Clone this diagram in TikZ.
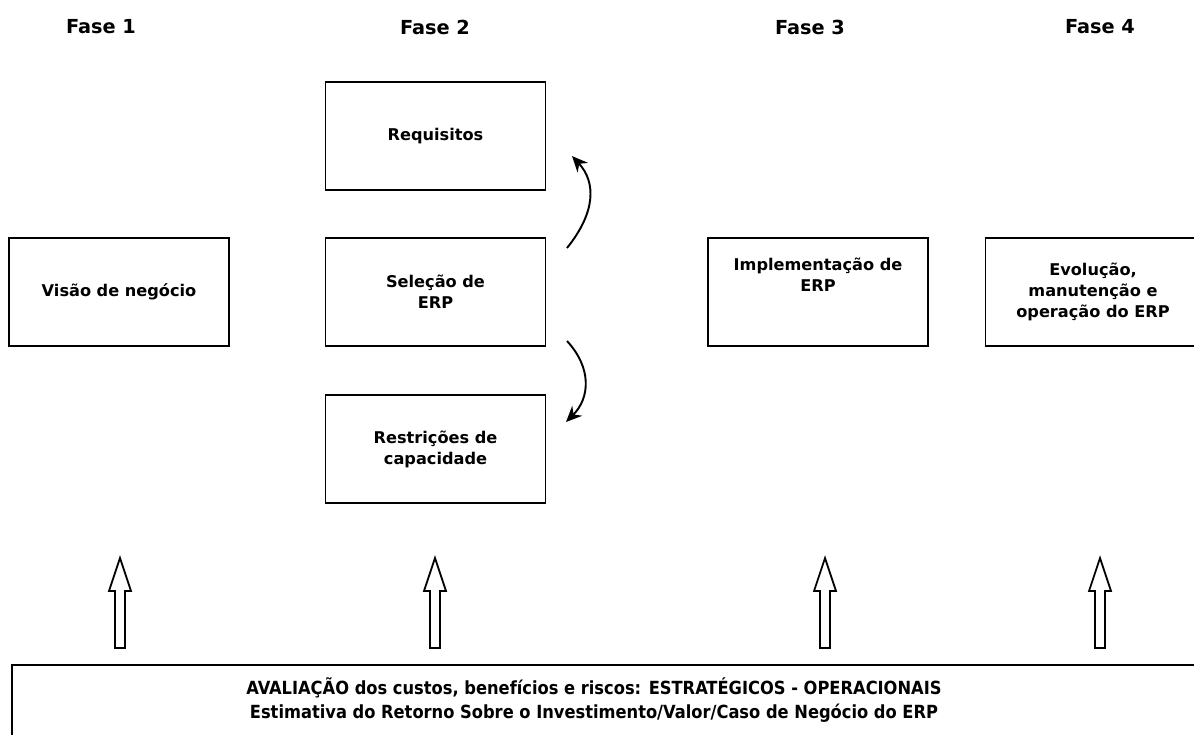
\documentclass[tikz,border=0pt]{standalone}
\usepackage{fontspec}
\setmainfont{DejaVu Sans}
\newfontfamily\narrowfont{DejaVu Sans Condensed}
\usetikzlibrary{arrows.meta,positioning}

\begin{document}
\begin{tikzpicture}[x=0.02cm,y=-0.02cm,
  every node/.style={font=\bfseries},
  fasebox/.style={draw,line width=1pt,minimum width=4.4cm,minimum height=2.16cm,align=center,font=\bfseries\fontsize{9.2}{12}\selectfont},
  fasetitle/.style={font=\bfseries\fontsize{11}{14}\selectfont},
  bendarrow/.style={line width=1.1pt,-{Stealth[length=9pt,width=8pt]}},
  hollow/.style={draw,line width=1pt,fill=white}]
\useasboundingbox (0,0) rectangle (1194,734);
% titles
\node[fasetitle] (f1) at (101,27) {Fase 1};
\node[fasetitle] (f2) at (435,27) {Fase 2};
\node[fasetitle] (f3) at (810,27) {Fase 3};
\node[fasetitle] (f4) at (1100,27) {Fase 4};
% boxes
\node[fasebox] (visao) at (119,292) {Visão de negócio};
\node[fasebox] (req) at (435.5,136) {Requisitos};
\node[fasebox] (sel) at (435.5,292) {Seleção de\\ERP};
\node[fasebox] (restr) at (435.5,449) {Restrições de\\capacidade};
\node[fasebox] (impl) at (818,292) {Implementação de\\ERP\\[8pt]};
\node[fasebox,minimum width=4.3cm] (evol) at (1093,292) {Evolução,\\manutenção e\\operação do ERP};
% curved arrows
\coordinate (up0) at (567,248);
\coordinate (up1) at (572,156);
\coordinate (dn0) at (567,341);
\coordinate (dn1) at (566,422);
\draw[bendarrow] (up0) .. controls (596,212) and (596,182) .. (up1);
\draw[bendarrow] (dn0) .. controls (592,368) and (590,398) .. (dn1);
% bottom box
\draw[line width=1pt] (12,740) -- (12,665) -- (1200,665);
\node[font=\narrowfont\bfseries\fontsize{10.3}{13.5}\selectfont,align=center] (aval) at (594,700)
  {AVALIAÇÃO dos custos, benefícios e riscos: ESTRATÉGICOS - OPERACIONAIS\\Estimativa do Retorno Sobre o Investimento/Valor/Caso de Negócio do ERP};
% hollow arrows
\foreach \ax in {120,435,825,1100}
  \draw[hollow] (\ax-5,648) -- (\ax-5,591) -- (\ax-11,591) -- (\ax,558)
    -- (\ax+11,591) -- (\ax+5,591) -- (\ax+5,648) -- cycle;
\end{tikzpicture}
\end{document}
